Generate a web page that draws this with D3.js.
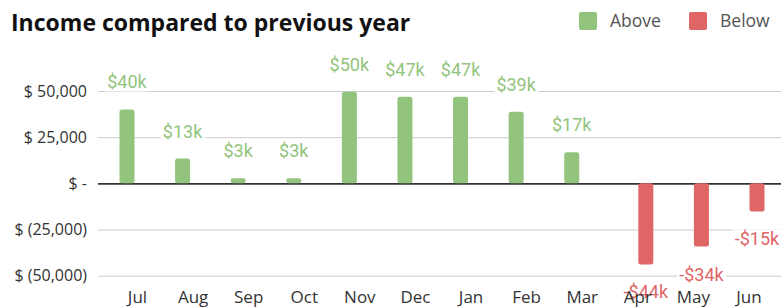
<!DOCTYPE html>
<html>
<head>
<meta charset="utf-8">
<script src="https://cdn.jsdelivr.net/npm/d3@7"></script>
<style>
  html, body { margin: 0; padding: 0; background: #fff; }
  svg { display: block; }
</style>
</head>
<body>
<svg id="chart" width="783" height="308"></svg>
<script>
// ---- data ----
const months = ["Jul","Aug","Sep","Oct","Nov","Dec","Jan","Feb","Mar","Apr","May","Jun"];
const aboveValues = [40000, 13400, 2700, 2700, 49600, 46900, 46900, 38800, 16800, null, null, null];
const belowValues = [null, null, null, null, null, null, null, null, null, -43900, -34200, -15200];
const yTicks = [50000, 25000, 0, -25000, -50000];
const seriesNames = ["Above", "Below"];

// ---- styles ----
const GREEN = "#93c47d", RED = "#e06666";
const svg = d3.select("#chart");
const plotLeft = 98, plotRight = 781;

const x = d3.scalePoint().domain(months).range([137, 748.5]);
const y = d3.scaleLinear().domain([-50000, 50000]).range([275.7, 91]);
const barW = 15;
const offsets = { Above: -10, Below: 8.5 };

function fmtTick(v) {
  if (v === 0) return "$ -";
  const s = d3.format(",")(Math.abs(v));
  return v < 0 ? "$ (" + s + ")" : "$ " + s;
}
function fmtLabel(v) {
  const k = Math.round(Math.abs(v) / 1000);
  return (v < 0 ? "-$" : "$") + k + "k";
}

// gridlines + y labels
const yAxis = d3.axisLeft(y).tickValues(yTicks).tickSize(-(plotRight - plotLeft)).tickFormat(fmtTick).tickPadding(11);
const gy = svg.append("g").attr("transform", `translate(${plotLeft},0)`).call(yAxis);
gy.select(".domain").remove();
gy.selectAll(".tick line").attr("stroke", "#cccccc").attr("stroke-width", 1)
  .filter(d => d === 0).attr("stroke", "#333").attr("stroke-width", 1.6);
gy.selectAll(".tick text")
  .attr("font-family", "'Open Sans', sans-serif").attr("font-size", 16).attr("fill", "#333");

// bars
const rows = months.map((m, i) => ({ m, above: aboveValues[i], below: belowValues[i] }));
const series = [
  { name: "Above", color: GREEN, key: "above" },
  { name: "Below", color: RED, key: "below" }
];

const barG = svg.append("g");
const labelG = svg.append("g");
series.forEach(s => {
  const data = rows.filter(r => r[s.key] != null).map(r => ({ m: r.m, v: r[s.key] }));
  barG.selectAll(null).data(data).enter().append("rect")
    .attr("x", d => x(d.m) + offsets[s.name] - barW / 2)
    .attr("width", barW)
    .attr("y", d => Math.min(y(d.v), y(0)))
    .attr("height", d => Math.abs(y(d.v) - y(0)))
    .attr("rx", 2.5)
    .attr("fill", s.color);

  data.forEach(d => {
    const cx = x(d.m) + offsets[s.name];
    const baseY = d.v >= 0 ? y(d.v) - 21 : y(d.v) + 34;
    const g = labelG.append("g");
    const t = g.append("text")
      .attr("x", cx).attr("y", baseY)
      .attr("text-anchor", "middle")
      .attr("font-family", "Roboto, sans-serif")
      .attr("font-size", 18)
      .attr("fill", s.color)
      .text(fmtLabel(d.v));
    const bb = t.node().getBBox();
    g.insert("rect", "text")
      .attr("x", bb.x - 2).attr("y", bb.y + 1)
      .attr("width", bb.width + 4).attr("height", bb.height - 2)
      .attr("fill", "#fff");
  });
});

// x axis labels
const xAxis = d3.axisBottom(x).tickSize(0).tickPadding(0);
const gx = svg.append("g").attr("transform", `translate(0,290)`).call(xAxis);
gx.select(".domain").remove();
gx.selectAll(".tick text")
  .attr("font-family", "'Open Sans', sans-serif").attr("font-size", 17).attr("fill", "#333")
  .attr("dy", "0.75em");

// title
svg.append("text")
  .attr("x", 11).attr("y", 31)
  .attr("font-family", "'Open Sans', sans-serif").attr("font-weight", "bold")
  .attr("font-size", 23).attr("fill", "#111")
  .text("Income compared to previous year");

// legend
const legendPos = [579, 689];
series.forEach((s, i) => {
  svg.append("rect").attr("x", legendPos[i]).attr("y", 12).attr("width", 18).attr("height", 18)
    .attr("rx", 2).attr("fill", s.color);
  svg.append("text").attr("x", legendPos[i] + 31).attr("y", 27)
    .attr("font-family", "'Open Sans', sans-serif").attr("font-size", 17.5).attr("fill", "#555")
    .text(seriesNames[i]);
});
</script>
</body>
</html>
